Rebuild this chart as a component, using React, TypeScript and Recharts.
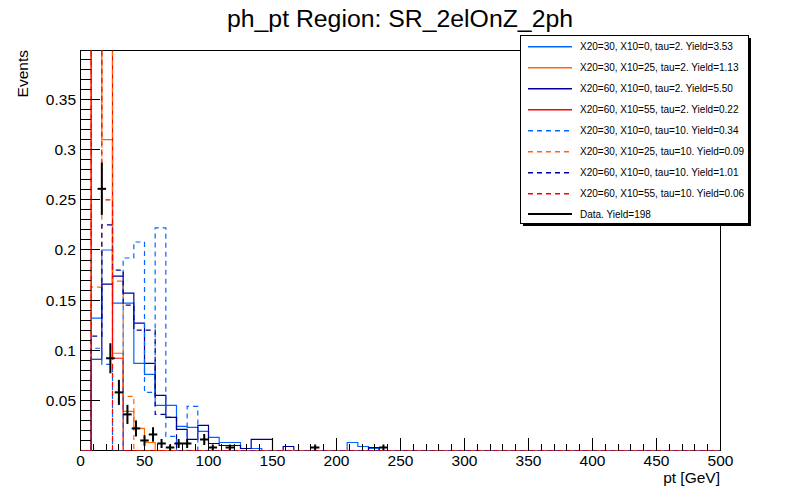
import React from 'react';
import { ComposedChart, Line, Scatter, ErrorBar, XAxis, YAxis, ReferenceArea, Legend } from 'recharts';

const FONT = '"Liberation Sans", Arial, Helvetica, sans-serif';

// ---------- axis / binning ----------
const X_MIN = 0;
const X_MAX = 500;
const N_BINS = 60; // 8.33 GeV bins for the signal histograms
const Y_MAX = 0.399;

const X_MAJOR_TICKS = [0, 50, 100, 150, 200, 250, 300, 350, 400, 450, 500];
const Y_MAJOR_TICKS = [0.05, 0.1, 0.15, 0.2, 0.25, 0.3, 0.35];

const TITLE = 'ph_pt Region: SR_2elOnZ_2ph';
const X_TITLE = 'pt [GeV]';
const Y_TITLE = 'Events';

// ---------- signal histograms (bin contents, bins not listed are empty) ----------
const X20_30_X10_0_TAU2 = [0, 0.132, 0.2, 0.147, 0.147, 0.087, 0.076, 0.045, 0.045, 0.024, 0.023, 0.019, 0.013, 0.008, 0.008, 0.002, 0.002, 0, 0, 0, 0, 0, 0, 0, 0, 0.008, 0.004, 0.002];
const X20_30_X10_25_TAU2 = [0, 0.53, 0.31, 0.097, 0.039, 0.022, 0.008];
const X20_60_X10_0_TAU2 = [0, 0.091, 0.166, 0.174, 0.157, 0.127, 0.087, 0.055, 0.033, 0.021, 0.011, 0.025, 0.007, 0.005, 0.005, 0.002, 0.011, 0.011, 0, 0.004, 0, 0, 0, 0, 0, 0, 0, 0.003];
const X20_60_X10_55_TAU2 = [0, 0.48, 0.43, 0.092];
const X20_30_X10_0_TAU10 = [0, 0.102, 0.086, 0, 0.192, 0.208, 0.058, 0.222, 0.014, 0, 0.044];
const X20_30_X10_25_TAU10 = [0, 0.163, 0.614, 0.169, 0.054];
const X20_60_X10_0_TAU10 = [0, 0.114, 0.225, 0.18, 0.145, 0.12, 0.12, 0.036, 0.033];
const X20_60_X10_55_TAU10 = [0, 0.75, 0.25];

// ---------- data (6.67 GeV bins) ----------
const DATA_X = [16.67, 23.33, 30, 36.67, 43.33, 50, 56.67, 63.33, 70, 76.67, 83.33, 96.67, 103.33, 116.67, 183.33, 236.67];
const DATA_Y = [0.261, 0.092, 0.058, 0.036, 0.022, 0.01, 0.016, 0.007, 0.003, 0.007, 0.007, 0.011, 0.003, 0.003, 0.003, 0.003];
const DATA_EY = [0.026, 0.015, 0.0125, 0.0095, 0.008, 0.0053, 0.0072, 0.0045, 0.003, 0.0045, 0.0045, 0.0055, 0.003, 0.003, 0.003, 0.003];
const DATA_EX = 3.333;

const BLUE = '#0066ff';
const ORANGE = '#ff6600';
const NAVY = '#000099';
const RED = '#ff0000';
const DASH = '5 4';

const SERIES = [
  { name: 'X20=30, X10=0, tau=2. Yield=3.53', values: X20_30_X10_0_TAU2, color: BLUE, dash: undefined },
  { name: 'X20=30, X10=25, tau=2. Yield=1.13', values: X20_30_X10_25_TAU2, color: ORANGE, dash: undefined },
  { name: 'X20=60, X10=0, tau=2. Yield=5.50', values: X20_60_X10_0_TAU2, color: NAVY, dash: undefined },
  { name: 'X20=60, X10=55, tau=2. Yield=0.22', values: X20_60_X10_55_TAU2, color: RED, dash: undefined },
  { name: 'X20=30, X10=0, tau=10. Yield=0.34', values: X20_30_X10_0_TAU10, color: BLUE, dash: DASH },
  { name: 'X20=30, X10=25, tau=10. Yield=0.09', values: X20_30_X10_25_TAU10, color: ORANGE, dash: DASH },
  { name: 'X20=60, X10=0, tau=10. Yield=1.01', values: X20_60_X10_0_TAU10, color: NAVY, dash: DASH },
  { name: 'X20=60, X10=55, tau=10. Yield=0.06', values: X20_60_X10_55_TAU10, color: RED, dash: DASH },
];
const DATA_NAME = 'Data. Yield=198';

function histPoints(values: number[]) {
  const pts: { x: number; y: number }[] = [];
  for (let i = 0; i < N_BINS; i++) {
    pts.push({ x: (i * (X_MAX - X_MIN)) / N_BINS + X_MIN, y: values[i] ?? 0 });
  }
  pts.push({ x: X_MAX, y: values[N_BINS - 1] ?? 0 });
  return pts;
}

const DATA_POINTS = DATA_X.map((x, i) => ({ x, y: DATA_Y[i], ey: DATA_EY[i], ex: DATA_EX }));

const X_TICKS: number[] = [];
for (let v = X_MIN; v <= X_MAX; v += 10) X_TICKS.push(v);
const Y_TICKS: number[] = [];
for (let i = 1; i <= 39; i++) Y_TICKS.push(i / 100);

const XTick = (props: any) => {
  const { x, y, payload } = props;
  const v = payload.value;
  const major = X_MAJOR_TICKS.includes(v);
  const px = Math.round(x - 0.5) + 0.5;
  return (
    <g>
      <line x1={px} x2={px} y1={y} y2={y - (major ? 12.5 : 6.5)} stroke="#000" strokeWidth={1} shapeRendering="crispEdges" />
      {major && (
        <text x={x} y={y + 15.5} textAnchor="middle" fontSize={15.5} fontFamily={FONT} fill="#000">
          {v}
        </text>
      )}
    </g>
  );
};

const YTick = (props: any) => {
  const { x, y, payload } = props;
  const v = Math.round(payload.value * 100) / 100;
  const major = Y_MAJOR_TICKS.includes(v);
  const py = Math.round(y - 0.5) + 0.5;
  return (
    <g>
      <line x1={x} x2={x + (major ? 19 : 10)} y1={py} y2={py} stroke="#000" strokeWidth={1} shapeRendering="crispEdges" />
      {major && (
        <text x={x - 4.5} y={y} textAnchor="end" dominantBaseline="central" fontSize={15.5} fontFamily={FONT} fill="#000">
          {String(v)}
        </text>
      )}
    </g>
  );
};

const EmptyShape = () => <g />;

const LegendBox = () => {
  const rowY = (i: number) => Math.round(10.7 + i * 21.07) + 0.5;
  return (
    <svg width={232} height={192} style={{ display: 'block' }}>
      <rect x={0.5} y={0.5} width={228} height={188} fill="#fff" stroke="#000" strokeWidth={1} />
      <rect x={229} y={3} width={2} height={188} fill="#000" />
      <rect x={3} y={189} width={228} height={2} fill="#000" />
      {SERIES.map((s, i) => (
        <g key={s.name}>
          <line x1={8} x2={52} y1={rowY(i) + 0.3} y2={rowY(i) + 0.3} stroke={s.color} strokeWidth={1.4} strokeDasharray={s.dash} />
          <text x={60} y={rowY(i)} dominantBaseline="central" fontSize={10} fontFamily={FONT} fill="#000">
            {s.name}
          </text>
        </g>
      ))}
      <line x1={8} x2={52} y1={rowY(SERIES.length) - 0.5} y2={rowY(SERIES.length) - 0.5} stroke="#000" strokeWidth={2} />
      <text x={60} y={rowY(SERIES.length)} dominantBaseline="central" fontSize={10} fontFamily={FONT} fill="#000">
        {DATA_NAME}
      </text>
    </svg>
  );
};

export default function App() {
  return (
    <div style={{ position: 'absolute', left: 0, top: 0, width: 800, height: 500, background: '#fff' }}>
      <ComposedChart
        width={800}
        height={500}
        margin={{ top: 50.5, left: 79.5, right: 79.5, bottom: 48.5 }}
      >
        <XAxis
          dataKey="x"
          type="number"
          domain={[X_MIN, X_MAX]}
          ticks={X_TICKS}
          interval={0}
          height={1}
          tickSize={0}
          tickMargin={0}
          axisLine={false}
          tickLine={false}
          tick={<XTick />}
          allowDataOverflow
        />
        <YAxis
          type="number"
          domain={[0, Y_MAX]}
          ticks={Y_TICKS}
          interval={0}
          width={1}
          tickSize={0}
          tickMargin={0}
          axisLine={false}
          tickLine={false}
          tick={<YTick />}
          allowDataOverflow
        />
        <ReferenceArea x1={X_MIN} x2={X_MAX} y1={0} y2={Y_MAX} fill="none" stroke="#000" strokeWidth={1} fillOpacity={0} shapeRendering="crispEdges" />
        {SERIES.map((s) => (
          <Line
            key={s.name}
            name={s.name}
            data={histPoints(s.values)}
            dataKey="y"
            type="stepAfter"
            stroke={s.color}
            strokeWidth={1.2}
            strokeDasharray={s.dash}
            dot={false}
            activeDot={false}
            isAnimationActive={false}
          />
        ))}
        <Scatter name={DATA_NAME} data={DATA_POINTS} dataKey="y" shape={EmptyShape} fill="#000" isAnimationActive={false}>
          <ErrorBar dataKey="ey" direction="y" width={0} stroke="#000" strokeWidth={2} isAnimationActive={false} />
          <ErrorBar dataKey="ex" direction="x" width={0} stroke="#000" strokeWidth={2} isAnimationActive={false} />
        </Scatter>
        <Legend
          layout="vertical"
          align="center"
          verticalAlign="middle"
          width={232}
          height={192}
          wrapperStyle={{ left: 520, top: 35, width: 232, height: 192 }}
          content={() => <LegendBox />}
        />
      </ComposedChart>
      <svg width={800} height={500} style={{ position: 'absolute', left: 0, top: 0, pointerEvents: 'none' }}>
        <text x={400} y={27} textAnchor="middle" fontSize={24.8} fontFamily={FONT} fill="#000">
          {TITLE}
        </text>
        <text transform="translate(22, 50) rotate(-90)" textAnchor="end" dominantBaseline="central" fontSize={15.5} fontFamily={FONT} fill="#000">
          {Y_TITLE}
        </text>
        <text x={720} y={483} textAnchor="end" fontSize={15.5} fontFamily={FONT} fill="#000">
          {X_TITLE}
        </text>
      </svg>
    </div>
  );
}
